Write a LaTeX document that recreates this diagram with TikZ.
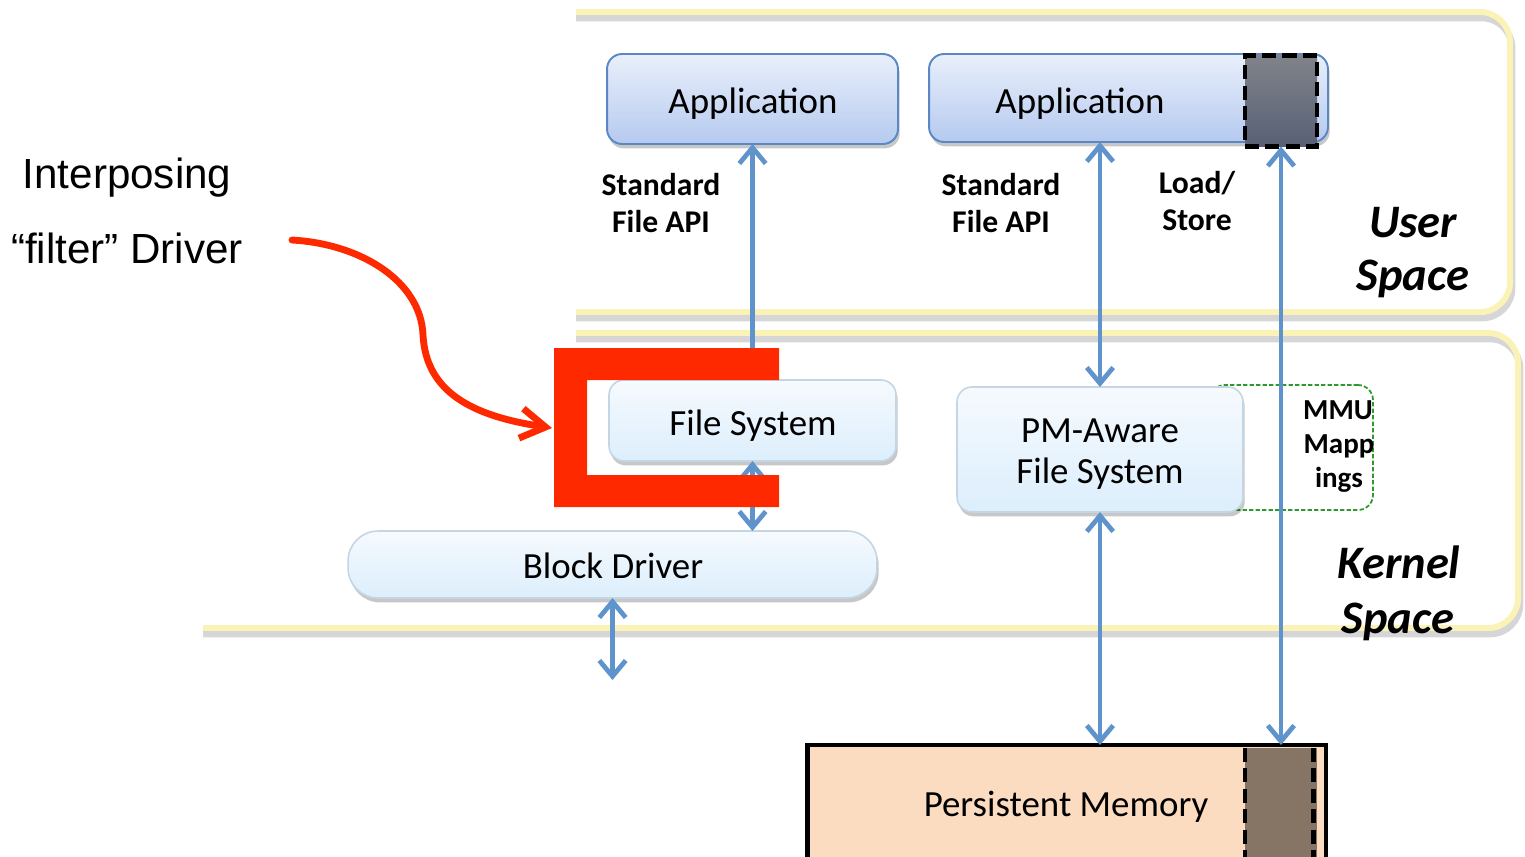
\documentclass[tikz,border=0pt]{standalone}
\usepackage{fontspec}
\setmainfont{Carlito}
\newfontfamily\arialfont{Liberation Sans}
\usetikzlibrary{arrows.meta,shadows}

\definecolor{frameyellow}{HTML}{FAF2B6}
\definecolor{arrowblue}{HTML}{5E93CB}
\definecolor{filterred}{HTML}{FF2900}
\definecolor{apptop}{HTML}{E9EFFB}
\definecolor{appbottom}{HTML}{B5CAEF}
\definecolor{appborder}{HTML}{5B87C5}
\definecolor{ktop}{HTML}{F6FAFE}
\definecolor{kbottom}{HTML}{DCEEFC}
\definecolor{kborder}{HTML}{C4D6E4}
\definecolor{peach}{HTML}{FBDCC0}
\definecolor{memgray}{HTML}{867565}
\definecolor{pagetop}{HTML}{808389}
\definecolor{pagebottom}{HTML}{586076}
\definecolor{mmugreen}{HTML}{2E9A2E}

\begin{document}
\begin{tikzpicture}[x=0.02cm,y=-0.02cm,
  frame/.style={line width=3.4pt, draw=frameyellow, rounded corners=0.6cm},
  frameshadow/.style={line width=3.8pt, draw=black!16, rounded corners=0.6cm},
  boxshadow/.style={drop shadow={shadow xshift=1pt, shadow yshift=-2.5pt, fill=black, opacity=0.22}},
  appbox/.style={draw=appborder, line width=1.1pt, rounded corners=0.3cm,
    top color=apptop, bottom color=appbottom, inner sep=0pt, outer sep=0pt, boxshadow},
  kbox/.style={draw=kborder, line width=0.9pt, rounded corners=0.3cm,
    top color=ktop, bottom color=kbottom, inner sep=0pt, outer sep=0pt, boxshadow},
  pagebox/.style={draw=black, line width=2.8pt, dash pattern=on 8pt off 3.6pt,
    top color=pagetop, bottom color=pagebottom, inner sep=0pt, outer sep=0pt},
  pageedge/.style={draw=black, line width=2.6pt, dash pattern=on 8pt off 3.6pt},
  arr/.style={draw=arrowblue, line width=2.7pt,
    {Straight Barb[length=9pt,width=15pt]}-{Straight Barb[length=9pt,width=15pt]}},
  lbl/.style={anchor=base, inner sep=0pt, font=\fontsize{21}{25}\selectfont},
  blbl/.style={anchor=base, inner sep=0pt, font=\fontsize{18}{22}\selectfont\bfseries},
  mlbl/.style={anchor=base, inner sep=0pt, font=\fontsize{16.5}{20}\selectfont\bfseries},
  splbl/.style={anchor=base, inner sep=0pt, font=\fontsize{26.5}{30}\selectfont\bfseries\itshape},
  alrlbl/.style={anchor=base, inner sep=0pt, font=\arialfont\fontsize{24}{28}\selectfont},
  redline/.style={draw=filterred, line width=3.9pt, line cap=round, line join=round,
    -{Straight Barb[length=14pt,width=17pt]}}
]
\useasboundingbox (0,0) rectangle (1525,856);
\clip (0,0) rectangle (1525,856);

% ---- user / kernel space frames ----
\draw[frameshadow] (576,18) -- (1512,18) -- (1512,318) -- (576,318);
\draw[frame] (576,12) -- (1510,12) -- (1510,312) -- (576,312);
\draw[frameshadow] (576,339) -- (1520,339) -- (1520,634) -- (203,634);
\draw[frame] (576,333) -- (1518,333) -- (1518,628) -- (203,628);

% ---- MMU mappings region ----
\node[draw=mmugreen, line width=1pt, dash pattern=on 2.5pt off 1.2pt, rounded corners=0.3cm,
      minimum width=3.26cm, minimum height=2.5cm, inner sep=0pt] (mmu) at (1291.5,447.5) {};

% ---- boxes ----
\node[appbox, minimum width=5.82cm, minimum height=1.8cm] (app1) at (752.5,99) {};
\node[appbox, minimum width=7.98cm, minimum height=1.76cm] (app2) at (1128.5,98) {};
\node[pagebox, minimum width=1.44cm, minimum height=1.82cm] (page) at (1281,101) {};
\node[kbox, minimum width=5.74cm, minimum height=1.62cm] (fs) at (752.5,420.5) {};
\node[kbox, minimum width=5.72cm, minimum height=2.5cm] (pmfs) at (1100,449.5) {};
\node[kbox, rounded corners=0.6cm, minimum width=10.58cm, minimum height=1.34cm] (bd) at (612.5,564.5) {};

% ---- persistent memory ----
\node[draw=black, line width=2.8pt, fill=peach, minimum width=10.38cm, minimum height=2.4cm,
      inner sep=0pt, outer sep=0pt] (mem) at (1066.5,805) {};
\node[fill=memgray, minimum width=1.44cm, minimum height=2.34cm, inner sep=0pt, outer sep=0pt]
      (mempage) at (1281,806.5) {};
\draw[pageedge] (mempage.north west) -- (mempage.south west);
\draw[pageedge] ([xshift=-2pt]mempage.north east) -- ([xshift=-2pt]mempage.south east);

% ---- connectors ----
\coordinate (bdout) at (612.5,680);
\draw[arr] (app1.south) -- (fs.north);
\draw[arr] (fs.south) -- (fs.south |- bd.north);
\draw[arr] (bd.south) -- (bdout);
\draw[arr] (pmfs.north |- app2.south) -- (pmfs.north);
\draw[arr] (pmfs.south) -- (pmfs.south |- mem.north);
\draw[arr] (page.south) -- (page.south |- mem.north);

% ---- interposing filter driver bracket ----
\fill[filterred] (554,348) -- (779,348) -- (779,380) -- (587,380) -- (587,475)
  -- (779,475) -- (779,507) -- (554,507) -- cycle;

% ---- texts ----
\node[lbl] (app1txt) at (753,113) {Application};
\node[lbl] (app2txt) at (1080,113) {Application};
\node[blbl] (api1a) at (661,195) {Standard};
\node[blbl] (api1b) at (661,232) {File API};
\node[blbl] (api2a) at (1001,195) {Standard};
\node[blbl] (api2b) at (1001,232) {File API};
\node[blbl] (lsa) at (1197,193) {Load/};
\node[blbl] (lsb) at (1197,230) {Store};
\node[splbl] (usera) at (1413,237) {User};
\node[splbl] (userb) at (1413,290) {Space};
\node[lbl] (fstxt) at (753,435) {File System};
\node[lbl] (pma) at (1100,442) {PM-Aware};
\node[lbl] (pmb) at (1100,483) {File System};
\node[mlbl] (mmua) at (1338,419) {MMU};
\node[mlbl] (mmub) at (1339,453) {Mapp};
\node[mlbl] (mmuc) at (1339,487) {ings};
\node[lbl] (bdtxt) at (613,578) {Block Driver};
\node[splbl] (kerna) at (1399,578) {Kernel};
\node[splbl] (kernb) at (1398,633) {Space};
\node[lbl] (memtxt) at (1066,816) {Persistent Memory};
\node[alrlbl] (ipa) at (127,188) {Interposing};
\node[alrlbl] (ipb) at (127,263) {“filter” Driver};

% ---- pointer to the filter driver ----
\coordinate (curvestart) at (292,240);
\coordinate (curveend) at (552,428);
\draw[redline] (curvestart) .. controls (362,244) and (421,282) .. (423,335)
  .. controls (426,392) and (472,416) .. (curveend);
\end{tikzpicture}
\end{document}
